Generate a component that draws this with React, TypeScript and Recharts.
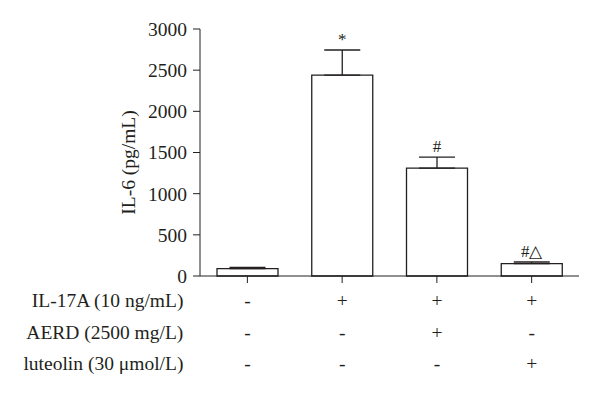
import { ComposedChart, Bar, Line, XAxis, YAxis, ErrorBar, LabelList } from "recharts";

const groups = ["control", "il17a", "aerd", "luteolin"];
const il6 = [90, 2440, 1310, 150];
const il6Err = [15, 305, 135, 20];
const marks = ["", "*", "#", "#\u25B3"];
const yTicks = [0, 500, 1000, 1500, 2000, 2500, 3000];

const rowLabels = ["IL-17A (10 ng/mL)", "AERD (2500 mg/L)", "luteolin (30 \u03BCmol/L)"];
const il17aRow = ["-", "+", "+", "+"];
const aerdRow = ["-", "-", "+", "-"];
const luteolinRow = ["-", "-", "-", "+"];
const rows = [il17aRow, aerdRow, luteolinRow];

const data = groups.map((g, i) => ({
  group: g,
  il6: il6[i],
  err: [0, il6Err[i]],
  top: il6[i] + il6Err[i],
  mark: marks[i],
}));

const FONT = "Liberation Serif";
const INK = "#231f20";
const SIZE = 19.5;
const rowOffsets = [22, 54, 85];

function TreatmentTick(props: any) {
  const { x, y, index } = props;
  return (
    <g style={{ fontFamily: FONT }}>
      {rows.map((row, r) => (
        <text
          key={r}
          x={x}
          y={y + rowOffsets[r]}
          textAnchor="middle"
          fontSize={SIZE}
          fill={INK}
          style={{ fontFamily: FONT }}
        >
          {row[index]}
        </text>
      ))}
      {index === 0 &&
        rowLabels.map((lbl, r) => (
          <text
            key={lbl}
            x={x - 64}
            y={y + rowOffsets[r]}
            textAnchor="end"
            fontSize={SIZE}
            fill={INK}
            style={{ fontFamily: FONT }}
          >
            {lbl}
          </text>
        ))}
    </g>
  );
}

function YTitle(props: any) {
  const { viewBox } = props;
  const cx = viewBox.x + 8;
  const cy = viewBox.y + viewBox.height / 2 + 10;
  return (
    <text
      x={cx}
      y={cy}
      transform={`rotate(-90, ${cx}, ${cy})`}
      textAnchor="middle"
      dominantBaseline="central"
      fontSize={SIZE}
      fill={INK}
      style={{ fontFamily: FONT }}
    >
      IL-6 (pg/mL)
    </text>
  );
}

export default function App() {
  return (
    <div style={{ position: "absolute", left: 0, top: 0, background: "#fff", fontFamily: FONT }}>
      <ComposedChart
        width={600}
        height={396}
        data={data}
        margin={{ top: 29, right: 21, left: 120, bottom: 0 }}
        style={{ fontFamily: FONT }}
      >
        <XAxis
          dataKey="group"
          height={120}
          stroke={INK}
          tickSize={7}
          tick={<TreatmentTick />}
          interval={0}
        />
        <YAxis
          width={80}
          domain={[0, 3000]}
          ticks={yTicks}
          stroke={INK}
          tickSize={7}
          tickMargin={6}
          tick={{ fill: INK, fontSize: SIZE, style: { fontFamily: FONT } }}
          label={<YTitle />}
        />
        <Bar
          dataKey="il6"
          barSize={61}
          fill="#fff"
          stroke={INK}
          strokeWidth={1.3}
          isAnimationActive={false}
        >
          <ErrorBar dataKey="err" direction="y" width={18} stroke={INK} strokeWidth={1.3} isAnimationActive={false} />
        </Bar>
        <Line
          dataKey="top"
          stroke="none"
          dot={false}
          activeDot={false}
          isAnimationActive={false}
        >
          <LabelList
            dataKey="mark"
            position="top"
            offset={5}
            fontSize={17}
            fill={INK}
            style={{ fontFamily: FONT }}
          />
        </Line>
      </ComposedChart>
    </div>
  );
}
